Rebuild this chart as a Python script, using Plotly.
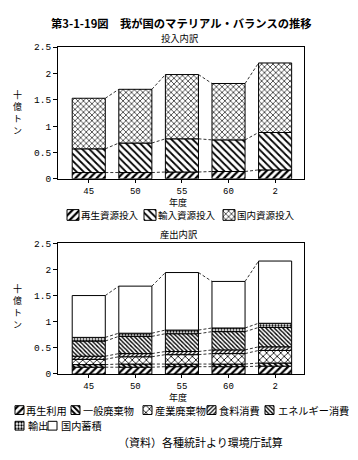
import numpy as np
import plotly.graph_objects as go

# ---------------- data ----------------
years = ["45", "50", "55", "60", "2"]

# 投入内訳 (十億トン)
in_recycled = [0.12, 0.12, 0.13, 0.14, 0.17]
in_imported = [0.45, 0.56, 0.63, 0.60, 0.71]
in_domestic = [0.96, 1.02, 1.22, 1.07, 1.32]

# 産出内訳 (十億トン)
out_recycled = [0.13, 0.13, 0.14, 0.14, 0.15]
out_general_waste = [0.05, 0.06, 0.05, 0.05, 0.06]
out_industrial_waste = [0.10, 0.14, 0.18, 0.20, 0.24]
out_food = [0.06, 0.06, 0.06, 0.07, 0.07]
out_energy = [0.29, 0.33, 0.34, 0.35, 0.37]
out_export = [0.07, 0.06, 0.07, 0.07, 0.08]
out_accumulation = [0.80, 0.90, 1.10, 0.89, 1.19]

in_names = ["再生資源投入", "輸入資源投入", "国内資源投入"]
out_names = ["再生利用", "一般廃棄物", "産業廃棄物", "食料消費",
             "エネルギー消費", "輸出", "国内蓄積"]
y_ticks = [0, 0.5, 1, 1.5, 2, 2.5]
y_unit = "十億トン"

# ---------------- geometry / styles ----------------
PAGE_W, PAGE_H = 358, 460
OFF = 8                       # default page body margin
W, H = PAGE_W - OFF, PAGE_H - OFF
JP = "Noto Sans CJK JP"
NUM = "Liberation Mono"
BW = 0.71

def pat(shape, size, sol):
    return dict(shape=shape, size=size, solidity=sol, fgcolor="black",
                bgcolor="white", fillmode="replace")

in_styles = [pat("/", 5, 0.45), pat("\\", 5, 0.35), pat("x", 4, 0.3)]
out_styles = [pat("/", 5, 0.45), pat("\\", 4, 0.5), pat("x", 5, 0.3),
              pat("/", 3, 0.4), pat("\\", 3, 0.45), pat(".", 3, 0.45),
              pat("", 5, 0.3)]

def py(px):
    return 1 - (px - OFF) / H

def pxx(px):
    return (px - OFF) / W

fig = go.Figure()
xpos = np.arange(len(years))

def add_stack(series, names, styles, xa, ya):
    arr = np.array(series, dtype=float)
    cum = np.cumsum(arr, axis=0)
    base = np.vstack([np.zeros(arr.shape[1]), cum[:-1]])
    for vals, b, name, st in zip(arr, base, names, styles):
        fig.add_trace(go.Bar(
            x=xpos, y=vals, base=b, name=name, width=BW,
            marker=dict(color="white", pattern=st,
                        line=dict(color="black", width=1)),
            xaxis=xa, yaxis=ya, showlegend=False))
    xs, ys = [], []
    for level in cum:
        for i in range(len(years) - 1):
            xs += [i + BW / 2, i + 1 - BW / 2, None]
            ys += [level[i], level[i + 1], None]
    fig.add_trace(go.Scatter(
        x=xs, y=ys, mode="lines", xaxis=xa, yaxis=ya, showlegend=False,
        hoverinfo="skip", line=dict(color="black", width=0.8, dash="3px,2px")))

add_stack([in_recycled, in_imported, in_domestic], in_names, in_styles, "x", "y")
add_stack([out_recycled, out_general_waste, out_industrial_waste, out_food,
           out_energy, out_export, out_accumulation],
          out_names, out_styles, "x2", "y2")

# ---------------- legend (swatches + labels) ----------------
annotations = []

def legend_item(name, style, left, text_x, ymid, fontsize, sw, sh):
    fig.add_trace(go.Bar(
        x=[left + sw / 2], y=[sh], base=[ymid - sh / 2], width=[sw],
        marker=dict(color="white", pattern=style,
                    line=dict(color="black", width=1)),
        xaxis="x3", yaxis="y3", showlegend=False, hoverinfo="skip"))
    annotations.append(dict(
        x=pxx(text_x), y=py(ymid), xref="paper", yref="paper",
        text=name, showarrow=False, xanchor="left", yanchor="middle",
        borderpad=0, font=dict(family=JP, size=fontsize, color="black")))

top_sw = [67, 144, 223]
top_tx = [80, 157, 236]
for name, st, lx, tx in zip(in_names, in_styles, top_sw, top_tx):
    legend_item(name, st, lx, tx, 215, 9.5, 12, 11)

row1_sw = [15, 71, 143, 207, 265]
row1_tx = [25, 82, 154, 218, 277]
row2_sw = [15, 48]
row2_tx = [27, 60]
for name, st, lx, tx in zip(out_names[:5], out_styles[:5], row1_sw, row1_tx):
    legend_item(name, st, lx, tx, 415, 10.2, 9, 9)
for name, st, lx, tx in zip(out_names[5:], out_styles[5:], row2_sw, row2_tx):
    legend_item(name, st, lx, tx, 431, 10.2, 9, 9)

# ---------------- texts ----------------
def text(t, x, y, size, bold=False, xanchor="center"):
    annotations.append(dict(
        x=pxx(x), y=py(y), xref="paper", yref="paper",
        text=f"<b>{t}</b>" if bold else t, showarrow=False,
        xanchor=xanchor, yanchor="middle", borderpad=0,
        font=dict(family=JP, size=size, color="black")))

text("第3-1-19図　我が国のマテリアル・バランスの推移", 181, 18, 11.3, bold=True)
text("投入内訳", 180, 34, 9.3)
text("産出内訳", 179, 235, 9.3)
text("年度", 178, 202, 9)
text("年度", 178, 402, 9)
# vertical axis unit label, one character per line
for center in (110, 309):
    n = len(y_unit)
    for k, ch in enumerate(y_unit):
        text(ch, 17, center + (k - (n - 1) / 2) * 12.5, 9)
text("（資料）各種統計より環境庁試算", 201, 448, 11)

# ---------------- axes ----------------
xdom = [pxx(58), pxx(304)]

def xaxis(anchor):
    return dict(domain=xdom, range=[-0.66, 4.62], anchor=anchor,
                tickmode="array", tickvals=list(xpos), ticktext=years,
                ticks="outside", ticklen=3, tickcolor="black",
                showline=True, linecolor="black", linewidth=1, mirror=True,
                showgrid=False, zeroline=False, fixedrange=True,
                tickfont=dict(family=NUM, size=9, color="black"))

def yaxis(anchor, top, bottom):
    return dict(domain=[py(bottom), py(top)], range=[0, 2.5], anchor=anchor,
                tickmode="array", tickvals=y_ticks,
                ticktext=[f"{v:g}" for v in y_ticks],
                ticks="outside", ticklen=4, tickcolor="black",
                showline=True, linecolor="black", linewidth=1, mirror=True,
                showgrid=False, zeroline=False, fixedrange=True,
                tickfont=dict(family=NUM, size=9.5, color="black"))

fig.update_layout(
    width=W, height=H,
    margin=dict(l=0, r=0, t=0, b=0),
    paper_bgcolor="white", plot_bgcolor="rgba(0,0,0,0)",
    barmode="overlay", showlegend=False,
    xaxis=xaxis("y"), yaxis=yaxis("x", 43, 178),
    xaxis2=xaxis("y2"), yaxis2=yaxis("x2", 244, 378),
    xaxis3=dict(domain=[0, 1], range=[OFF, PAGE_W], anchor="y3",
                visible=False, fixedrange=True),
    yaxis3=dict(domain=[0, 1], range=[PAGE_H, OFF], anchor="x3",
                visible=False, fixedrange=True),
    annotations=annotations,
    font=dict(family=JP, color="black"),
)

fig.write_html("out.html")
